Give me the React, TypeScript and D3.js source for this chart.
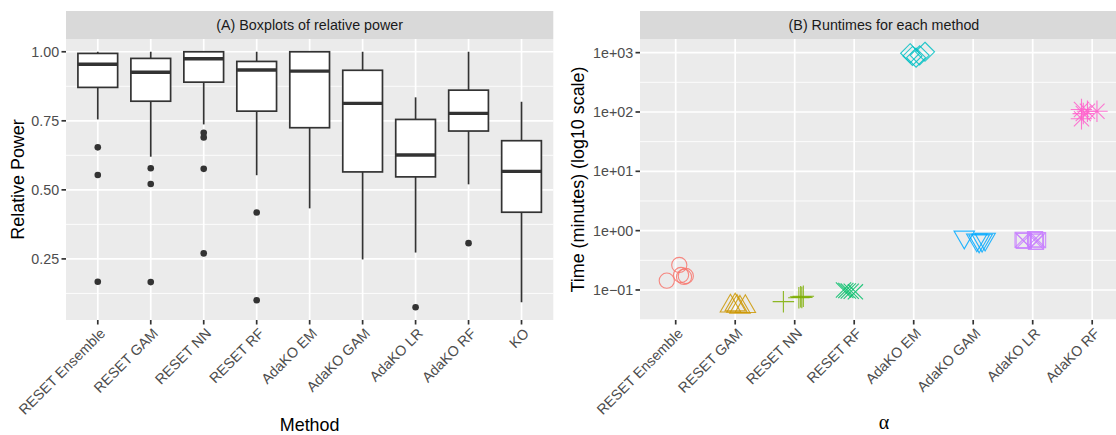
import React from "react";
import * as d3 from "d3";

// ---------- Panel A: relative power boxplots ----------
const powerMethods = [
  "RESET Ensemble", "RESET GAM", "RESET NN", "RESET RF",
  "AdaKO EM", "AdaKO GAM", "AdaKO LR", "AdaKO RF", "KO",
];
const boxQ1 = [0.871, 0.821, 0.89, 0.785, 0.725, 0.565, 0.547, 0.713, 0.419];
const boxMedian = [0.955, 0.926, 0.975, 0.934, 0.93, 0.813, 0.626, 0.777, 0.567];
const boxQ3 = [0.994, 0.976, 1.0, 0.965, 1.0, 0.933, 0.755, 0.861, 0.678];
const whiskerLow = [0.755, 0.62, 0.737, 0.553, 0.433, 0.248, 0.273, 0.52, 0.093];
const whiskerHigh = [1.0, 1.0, 1.0, 1.0, 1.0, 1.0, 0.835, 1.0, 0.819];
const outliers = [
  [0.654, 0.554, 0.167],
  [0.578, 0.521, 0.166],
  [0.707, 0.69, 0.576, 0.27],
  [0.418, 0.1],
  [],
  [],
  [0.075],
  [0.307],
  [],
];
const powerTicks = [0.25, 0.5, 0.75, 1.0];
const powerMinor = [0.125, 0.375, 0.625, 0.875];

// ---------- Panel B: runtimes (minutes) ----------
const runtimeMethods = [
  "RESET Ensemble", "RESET GAM", "RESET NN", "RESET RF",
  "AdaKO EM", "AdaKO GAM", "AdaKO LR", "AdaKO RF",
];
const runtimeColors = ["#F8766D", "#CD9600", "#7CAE00", "#00BE67", "#00BFC4", "#00A9FF", "#C77CFF", "#FF61CC"];
const runtimeShapes = [1, 2, 3, 4, 5, 6, 7, 8];
const timeResetEnsemble = [0.1435, 0.264, 0.179, 0.166, 0.172];
const timeResetGAM = [0.0535, 0.0558, 0.0512, 0.0525, 0.053];
const timeResetNN = [0.0636, 0.074, 0.077, 0.0785, 0.075];
const timeResetRF = [0.1, 0.096, 0.093, 0.098, 0.095];
const timeAdaKOEM = [977, 824, 1035, 880, 900];
const timeAdaKOGAM = [0.78, 0.67, 0.69, 0.72, 0.7];
const timeAdaKOLR = [0.7, 0.72, 0.65, 0.67, 0.69];
const timeAdaKORF = [110, 77, 103, 103, 94];
const runtimeValues = [
  timeResetEnsemble, timeResetGAM, timeResetNN, timeResetRF,
  timeAdaKOEM, timeAdaKOGAM, timeAdaKOLR, timeAdaKORF,
];
// horizontal jitter, in category-step units
const jitterResetEnsemble = [-0.15, 0.06, 0.09, 0.14, 0.17];
const jitterResetGAM = [-0.08, 0.0, 0.08, 0.17, 0.03];
const jitterResetNN = [-0.19, 0.07, 0.1, 0.145, 0.12];
const jitterResetRF = [-0.18, -0.1, 0.02, -0.14, -0.05];
const jitterAdaKOEM = [-0.06, 0.04, 0.19, -0.02, 0.1];
const jitterAdaKOGAM = [-0.15, 0.1, 0.15, 0.2, 0.06];
const jitterAdaKOLR = [-0.17, 0.04, 0.055, -0.15, 0.09];
const jitterAdaKORF = [-0.18, -0.18, -0.08, 0.08, -0.15];
const runtimeJitter = [
  jitterResetEnsemble, jitterResetGAM, jitterResetNN, jitterResetRF,
  jitterAdaKOEM, jitterAdaKOGAM, jitterAdaKOLR, jitterAdaKORF,
];
const timeTicks = [0.1, 1, 10, 100, 1000];
const timeTickLabels = ["1e\u221201", "1e+00", "1e+01", "1e+02", "1e+03"];

// ---------- styling ----------
const FONT = "'Liberation Sans', Arial, Helvetica, sans-serif";
const TICK_FS = 14.3;
const TITLE_FS = 17.9;
const PANEL_BG = "#EBEBEB";
const STRIP_BG = "#D9D9D9";
const MAJOR_W = 1.7;
const MINOR_W = 0.85;
const TICK_LEN = 4.5;

function shapeElement(code: number, cx: number, cy: number, R: number, color: string, key: string) {
  const common = { stroke: color, strokeWidth: 1.1, fill: "none", opacity: 0.85 };
  const line = (x1: number, y1: number, x2: number, y2: number) => `M${cx + x1},${cy + y1}L${cx + x2},${cy + y2}`;
  const TRC0 = Math.sqrt((4 * Math.PI) / (3 * Math.sqrt(3)));
  const TRC1 = (TRC0 * Math.sqrt(3)) / 2;
  const TRC2 = TRC0 / 2;
  switch (code) {
    case 1:
      return <circle key={key} cx={cx} cy={cy} r={R} {...common} />;
    case 2: {
      const r = TRC0 * R, yc = TRC2 * R, xc = TRC1 * R;
      return <path key={key} d={`M${cx},${cy - r}L${cx + xc},${cy + yc}L${cx - xc},${cy + yc}Z`} {...common} />;
    }
    case 6: {
      const r = TRC0 * R, yc = TRC2 * R, xc = TRC1 * R;
      return <path key={key} d={`M${cx},${cy + r}L${cx + xc},${cy - yc}L${cx - xc},${cy - yc}Z`} {...common} />;
    }
    case 3: {
      const xc = Math.SQRT2 * R;
      return <path key={key} d={line(-xc, 0, xc, 0) + line(0, -xc, 0, xc)} {...common} />;
    }
    case 4: {
      const xc = R;
      return <path key={key} d={line(-xc, -xc, xc, xc) + line(-xc, xc, xc, -xc)} {...common} />;
    }
    case 5: {
      const xc = 1.2533 * R;
      return <path key={key} d={`M${cx},${cy - xc}L${cx + xc},${cy}L${cx},${cy + xc}L${cx - xc},${cy}Z`} {...common} />;
    }
    case 7: {
      const xc = R;
      return (
        <path key={key}
          d={`M${cx - xc},${cy - xc}H${cx + xc}V${cy + xc}H${cx - xc}Z` + line(-xc, -xc, xc, xc) + line(-xc, xc, xc, -xc)}
          {...common} />
      );
    }
    case 8: {
      const xc = R, xp = Math.SQRT2 * R;
      return (
        <path key={key}
          d={line(-xc, -xc, xc, xc) + line(-xc, xc, xc, -xc) + line(-xp, 0, xp, 0) + line(0, -xp, 0, xp)}
          {...common} />
      );
    }
    default:
      return null;
  }
}

export default function App() {
  const W = 1116, H = 435;
  const stripTop = 11, panelTop = 39, panelBottom = 320;

  // ---- Panel A scales ----
  const A = { x0: 66, x1: 553.3 };
  const xA = d3.scalePoint<string>().domain(powerMethods).range([A.x0, A.x1]).padding(0.6);
  const stepA = xA.step();
  const allA = [...whiskerLow, ...whiskerHigh, ...outliers.flat()];
  const minA = d3.min(allA) as number, maxA = d3.max(allA) as number;
  const padA = (maxA - minA) * 0.05;
  const yA = d3.scaleLinear().domain([minA - padA, maxA + padA]).range([panelBottom, panelTop]);
  const boxW = stepA * 0.75;

  // ---- Panel B scales ----
  const B = { x0: 640, x1: 1127.9 };
  const xB = d3.scalePoint<string>().domain(runtimeMethods).range([B.x0, B.x1]).padding(0.6);
  const stepB = xB.step();
  const allB = runtimeValues.flat();
  const lminB = Math.log10(d3.min(allB) as number), lmaxB = Math.log10(d3.max(allB) as number);
  const padB = (lmaxB - lminB) * 0.05;
  const yB = d3.scaleLog().domain([Math.pow(10, lminB - padB), Math.pow(10, lmaxB + padB)]).range([panelBottom, panelTop]);
  const minorB = d3.range(-1.5, 3.6, 1)
    .map((e) => Math.pow(10, e))
    .filter((v) => v >= yB.domain()[0] && v <= yB.domain()[1]);

  const midA = (A.x0 + A.x1) / 2;
  const midB = (B.x0 + B.x1) / 2;
  const midY = (panelTop + panelBottom) / 2;

  const xLabel = (x: number, text: string, key: string) => (
    <text key={key} transform={`translate(${x + 1},${panelBottom + TICK_LEN + 2.5}) rotate(-45)`}
      textAnchor="end" dy="0.72em" fontSize={TICK_FS} fill="#4D4D4D" fontFamily={FONT}>{text}</text>
  );

  return (
    <svg width={W} height={H} style={{ position: "absolute", left: 0, top: 0, background: "#fff" }}
      fontFamily={FONT}>
      <rect x={0} y={0} width={W} height={H} fill="#fff" />

      {/* ================= Panel A ================= */}
      <rect x={A.x0} y={stripTop} width={A.x1 - A.x0} height={panelTop - stripTop} fill={STRIP_BG} />
      <text x={midA} y={(stripTop + panelTop) / 2} dy="0.35em" textAnchor="middle" fontSize={TICK_FS} fill="#1A1A1A">
        (A) Boxplots of relative power
      </text>
      <rect x={A.x0} y={panelTop} width={A.x1 - A.x0} height={panelBottom - panelTop} fill={PANEL_BG} />
      {powerMinor.map((v, i) => (
        <line key={"amn" + i} x1={A.x0} x2={A.x1} y1={yA(v)} y2={yA(v)} stroke="#fff" strokeWidth={MINOR_W} />
      ))}
      {powerTicks.map((v, i) => (
        <line key={"amj" + i} x1={A.x0} x2={A.x1} y1={yA(v)} y2={yA(v)} stroke="#fff" strokeWidth={MAJOR_W} />
      ))}
      {powerMethods.map((m, i) => (
        <line key={"avx" + i} x1={xA(m)} x2={xA(m)} y1={panelTop} y2={panelBottom} stroke="#fff" strokeWidth={MAJOR_W} />
      ))}
      {powerMethods.map((m, i) => {
        const cx = xA(m) as number;
        return (
          <g key={"box" + i}>
            <line x1={cx} x2={cx} y1={yA(boxQ3[i])} y2={yA(whiskerHigh[i])} stroke="#333333" strokeWidth={MAJOR_W} />
            <line x1={cx} x2={cx} y1={yA(boxQ1[i])} y2={yA(whiskerLow[i])} stroke="#333333" strokeWidth={MAJOR_W} />
            <rect x={cx - boxW / 2} y={yA(boxQ3[i])} width={boxW} height={yA(boxQ1[i]) - yA(boxQ3[i])}
              fill="#fff" stroke="#333333" strokeWidth={MAJOR_W} />
            <line x1={cx - boxW / 2} x2={cx + boxW / 2} y1={yA(boxMedian[i])} y2={yA(boxMedian[i])}
              stroke="#333333" strokeWidth={3.4} />
            {outliers[i].map((o, j) => (
              <circle key={j} cx={cx} cy={yA(o)} r={3.3} fill="#333333" />
            ))}
          </g>
        );
      })}
      {powerTicks.map((v, i) => (
        <g key={"ayt" + i}>
          <line x1={A.x0 - TICK_LEN} x2={A.x0} y1={yA(v)} y2={yA(v)} stroke="#333333" strokeWidth={MAJOR_W} />
          <text x={A.x0 - TICK_LEN - 2.3} y={yA(v)} dy="0.36em" textAnchor="end" fontSize={TICK_FS} fill="#4D4D4D">
            {v.toFixed(2)}
          </text>
        </g>
      ))}
      {powerMethods.map((m, i) => (
        <g key={"axt" + i}>
          <line x1={xA(m)} x2={xA(m)} y1={panelBottom} y2={panelBottom + TICK_LEN} stroke="#333333" strokeWidth={MAJOR_W} />
          {xLabel(xA(m) as number, m, "axl" + i)}
        </g>
      ))}
      <text transform={`translate(24,${midY}) rotate(-90)`} textAnchor="middle" fontSize={TITLE_FS} fill="#000">
        Relative Power
      </text>
      <text x={midA} y={430.5} textAnchor="middle" fontSize={TITLE_FS} fill="#000">Method</text>

      {/* ================= Panel B ================= */}
      <rect x={B.x0} y={stripTop} width={B.x1 - B.x0} height={panelTop - stripTop} fill={STRIP_BG} />
      <text x={midB} y={(stripTop + panelTop) / 2} dy="0.35em" textAnchor="middle" fontSize={TICK_FS} fill="#1A1A1A">
        (B) Runtimes for each method
      </text>
      <rect x={B.x0} y={panelTop} width={B.x1 - B.x0} height={panelBottom - panelTop} fill={PANEL_BG} />
      {minorB.map((v, i) => (
        <line key={"bmn" + i} x1={B.x0} x2={B.x1} y1={yB(v)} y2={yB(v)} stroke="#fff" strokeWidth={MINOR_W} />
      ))}
      {timeTicks.map((v, i) => (
        <line key={"bmj" + i} x1={B.x0} x2={B.x1} y1={yB(v)} y2={yB(v)} stroke="#fff" strokeWidth={MAJOR_W} />
      ))}
      {runtimeMethods.map((m, i) => (
        <line key={"bvx" + i} x1={xB(m)} x2={xB(m)} y1={panelTop} y2={panelBottom} stroke="#fff" strokeWidth={MAJOR_W} />
      ))}
      {runtimeMethods.map((m, i) => (
        <g key={"pts" + i}>
          {runtimeValues[i].map((v, j) =>
            shapeElement(runtimeShapes[i], (xB(m) as number) + runtimeJitter[i][j] * stepB, yB(v), 7.6,
              runtimeColors[i], `p${i}-${j}`)
          )}
        </g>
      ))}
      {timeTicks.map((v, i) => (
        <g key={"byt" + i}>
          <line x1={B.x0 - TICK_LEN} x2={B.x0} y1={yB(v)} y2={yB(v)} stroke="#333333" strokeWidth={MAJOR_W} />
          <text x={B.x0 - TICK_LEN - 2.3} y={yB(v)} dy="0.36em" textAnchor="end" fontSize={TICK_FS} fill="#4D4D4D">
            {timeTickLabels[i]}
          </text>
        </g>
      ))}
      {runtimeMethods.map((m, i) => (
        <g key={"bxt" + i}>
          <line x1={xB(m)} x2={xB(m)} y1={panelBottom} y2={panelBottom + TICK_LEN} stroke="#333333" strokeWidth={MAJOR_W} />
          {xLabel(xB(m) as number, m, "bxl" + i)}
        </g>
      ))}
      <text transform={`translate(584,${midY}) rotate(-90)`} textAnchor="middle" fontSize={TITLE_FS} fill="#000">
        Time (minutes) (log10 scale)
      </text>
      <text x={midB} y={429} textAnchor="middle" fontSize={20} fill="#000"
        fontFamily="'Liberation Serif', 'DejaVu Serif', serif">α</text>
    </svg>
  );
}
